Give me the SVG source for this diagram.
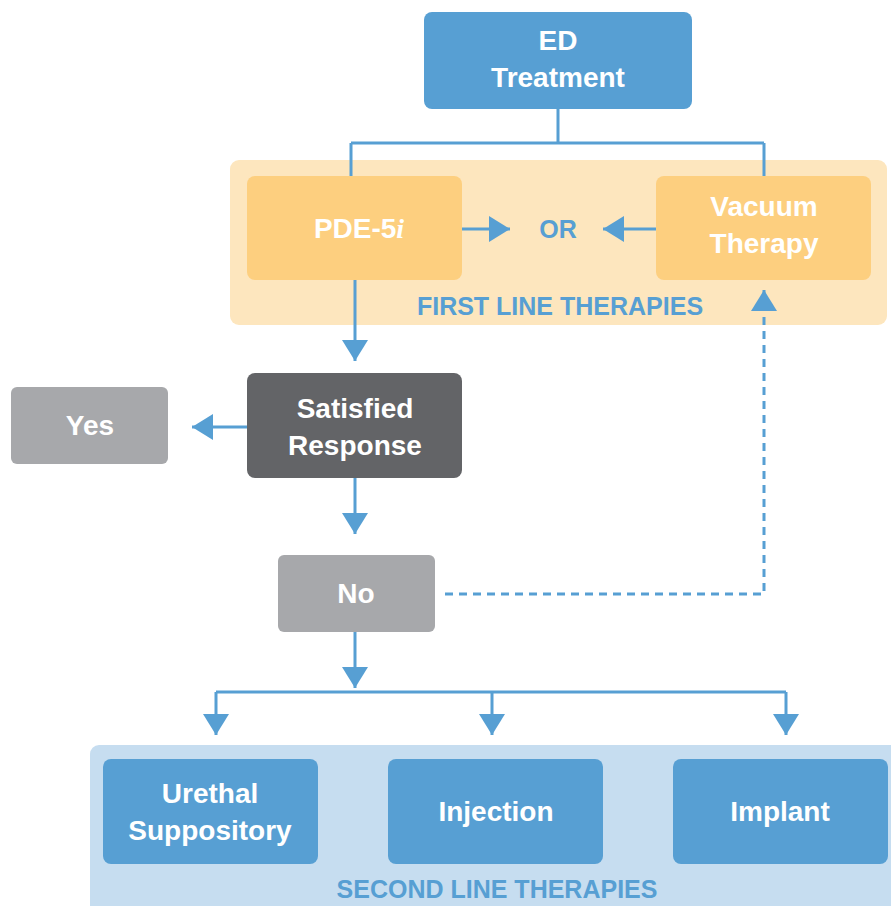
<svg xmlns="http://www.w3.org/2000/svg" width="891" height="906" viewBox="0 0 891 906">
<style>
.t{font-family:"Liberation Sans",Arial,sans-serif;font-weight:bold;font-size:28px;fill:#ffffff;text-anchor:middle}
.lbl{font-family:"Liberation Sans",Arial,sans-serif;font-weight:bold;font-size:25px;fill:#579fd3;text-anchor:middle}
.c{fill:none;stroke:#579fd3;stroke-width:3}
.blue{fill:#579fd3}
.org{fill:#fdcf7f}
</style>
<defs>
<marker id="ah" markerUnits="userSpaceOnUse" markerWidth="22" markerHeight="26" refX="21" refY="13" orient="auto">
<path d="M0,0 L21,13 L0,26 z" fill="#579fd3"/>
</marker>
</defs>
<g id="panel-first">
<rect x="230" y="160" width="657" height="165" rx="9" fill="#fde6be"/>
<text class="lbl" x="560" y="315">FIRST LINE THERAPIES</text>
</g>
<g id="panel-second">
<rect x="90" y="745" width="810" height="170" rx="9" fill="#c6ddf0"/>
<text class="lbl" x="497" y="898">SECOND LINE THERAPIES</text>
</g>
<g id="connectors">
<path class="c" d="M558,109 V143 M351,143 H764 M351,143 V176 M764,143 V176"/>
<line class="c" x1="462" y1="229" x2="510" y2="229" marker-end="url(#ah)"/>
<line class="c" x1="656" y1="229" x2="603" y2="229" marker-end="url(#ah)"/>
<line class="c" x1="355" y1="280" x2="355" y2="361" marker-end="url(#ah)"/>
<line class="c" x1="247" y1="427" x2="192" y2="427" marker-end="url(#ah)"/>
<line class="c" x1="355" y1="478" x2="355" y2="534" marker-end="url(#ah)"/>
<line class="c" x1="355" y1="632" x2="355" y2="688" marker-end="url(#ah)"/>
<path class="c" d="M216,692 H786"/>
<line class="c" x1="216" y1="692" x2="216" y2="735" marker-end="url(#ah)"/>
<line class="c" x1="492" y1="692" x2="492" y2="735" marker-end="url(#ah)"/>
<line class="c" x1="786" y1="692" x2="786" y2="735" marker-end="url(#ah)"/>
<path class="c" d="M445,594 H764 V290" stroke-dasharray="8 6" marker-end="url(#ah)"/>
</g>
<g id="ed">
<rect class="blue" x="424" y="12" width="268" height="97" rx="8"/>
<text class="t" x="558" y="50">ED</text>
<text class="t" x="558" y="87">Treatment</text>
</g>
<g id="pde5i">
<rect class="org" x="247" y="176" width="215" height="104" rx="8"/>
<text class="t" x="359" y="238">PDE-5<tspan font-style="italic" font-family="Liberation Serif,serif">i</tspan></text>
</g>
<g id="or">
<text class="lbl" x="558" y="238" font-size="28">OR</text>
</g>
<g id="vacuum">
<rect class="org" x="656" y="176" width="215" height="104" rx="8"/>
<text class="t" x="764" y="216">Vacuum</text>
<text class="t" x="764" y="253">Therapy</text>
</g>
<g id="satisfied">
<rect x="247" y="373" width="215" height="105" rx="8" fill="#636467"/>
<text class="t" x="355" y="418">Satisfied</text>
<text class="t" x="355" y="455">Response</text>
</g>
<g id="yes">
<rect x="11" y="387" width="157" height="77" rx="6" fill="#a7a8ab"/>
<text class="t" x="90" y="435">Yes</text>
</g>
<g id="no">
<rect x="278" y="555" width="157" height="77" rx="6" fill="#a7a8ab"/>
<text class="t" x="356" y="603">No</text>
</g>
<g id="urethal">
<rect class="blue" x="103" y="759" width="215" height="105" rx="8"/>
<text class="t" x="210" y="803">Urethal</text>
<text class="t" x="210" y="840">Suppository</text>
</g>
<g id="injection">
<rect class="blue" x="388" y="759" width="215" height="105" rx="8"/>
<text class="t" x="496" y="821">Injection</text>
</g>
<g id="implant">
<rect class="blue" x="673" y="759" width="215" height="105" rx="8"/>
<text class="t" x="780" y="821">Implant</text>
</g>
</svg>
